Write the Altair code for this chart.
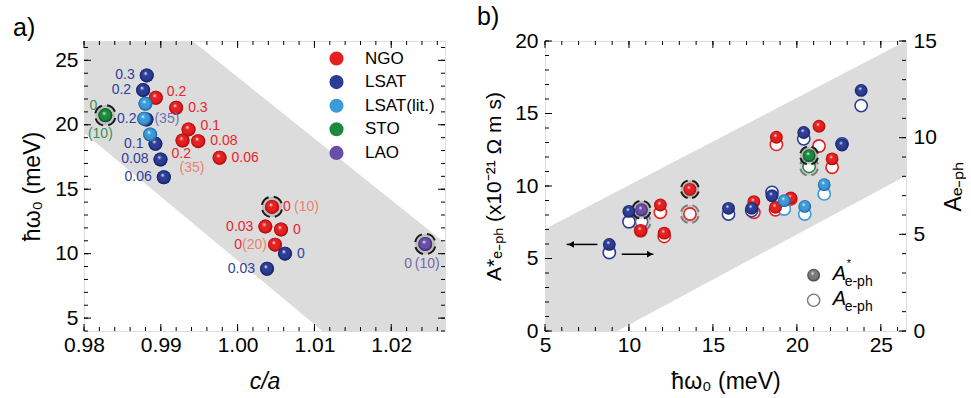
import altair as alt
import pandas as pd

FONT = "Liberation Sans"

# ---------------- data ----------------
materials = ["NGO", "LSAT", "LSAT(lit.)", "STO", "LAO"]
base_colors = ["#e62020", "#2c3d95", "#3c9ad9", "#1b8a3e", "#6a4ea5"]
dark_colors = ["#a00c0c", "#151e5e", "#1d5f98", "#0b4a1f", "#3a2767"]

# c/a, hbar*omega0 (meV), A*_e-ph (left axis), A_e-ph (right axis), dashed marker
ngo_ca = [0.98935, 0.99200, 0.99361, 0.99283, 0.99487, 0.99765, 1.00448, 1.00361, 1.00565, 1.00487]
ngo_w = [22.10, 21.32, 19.64, 18.78, 18.73, 17.44, 13.63, 12.10, 11.87, 10.70]
ngo_astar = [11.87, 14.12, 9.17, 13.36, 8.53, 8.92, 9.77, 6.75, 8.69, 6.94]
ngo_a = [8.47, 9.57, 6.83, 9.65, 6.27, 6.14, 6.05, 4.89, 6.14, 5.18]
ngo_ring = [0, 0, 0, 0, 0, 0, 1, 0, 0, 0]

lsat_ca = [0.98817, 0.98770, 0.98813, 0.98930, 0.98996, 0.99039, 1.00617, 1.00383]
lsat_w = [23.83, 22.69, 20.41, 18.52, 17.31, 15.93, 10.00, 8.83]
lsat_astar = [16.59, 12.83, 13.69, 9.33, 8.46, 8.46, 8.25, 5.97]
lsat_a = [11.66, 9.68, 9.94, 7.17, 6.23, 6.05, 5.65, 4.06]
lsat_ring = [0, 0, 0, 0, 0, 0, 0, 0]

lit_ca = [0.98800, 0.98783, 0.98861]
lit_w = [21.63, 20.47, 19.25]
lit_astar = [10.09, 8.59, 8.99]
lit_a = [7.09, 6.05, 6.31]
lit_ring = [0, 0, 0]

sto_ca = [0.98278]
sto_w = [20.73]
sto_astar = [12.10]
sto_a = [8.51]
sto_ring = [1]

lao_ca = [1.02443]
lao_w = [10.75]
lao_astar = [8.36]
lao_a = [5.65]
lao_ring = [1]

# point labels in panel a: (material, index, text)
lab_mat = ["NGO"] * 13 + ["LSAT"] * 9 + ["STO"] * 2 + ["LAO"] * 2
lab_idx = [0, 1, 2, 3, 3, 4, 5, 6, 6, 7, 8, 9, 9,
           0, 1, 2, 2, 3, 4, 5, 6, 7,
           0, 0, 0, 0]
lab_text = ["0.2", "0.3", "0.1", "0.2", "(35)", "0.08", "0.06", "0", "(10)", "0.03", "0", "0", "(20)",
            "0.3", "0.2", "0.2", "(35)", "0.1", "0.08", "0.06", "0", "0.03",
            "0", "(10)", "0", "(10)"]

# grey bands
band_a_x = [0.98, 0.99413, 1.01104, 1.027]
band_a_lo = [19.38, 12.38, 4.0, 4.0]
band_a_hi = [26.5, 26.5, 18.44, 10.83]

band_b_x = [5.0, 9.31, 26.5]
band_b_lo = [0.0, 0.0, 10.71]
band_b_hi = [7.03, 9.63, 20.0]

# arrows in panel b
arr_x1 = [8.12, 9.57]
arr_x2 = [6.29, 11.46]
arr_y = [5.97, 5.30]
head_x = [6.55, 11.25]

# legend symbols in panel b
leg_x = [21.0, 21.0]
leg_y = [3.85, 2.12]

# ---------------- styles ----------------
LAB_COLOR = {"NGO": ("#e8262b", "#e9836e"), "LSAT": ("#2f3f9c", "#6d72b3"),
             "STO": ("#3d8f55", "#3d8f55"), "LAO": ("#7565b0", "#7565b0")}
lab_dx = [11, 12, 12, -11, -3, 12, 12, 11, 22, -12, 12, -33, -8,
          -12, -12, -10, 8, -12, -12, -12, 12, -12,
          -12, -5, -17, 2]
lab_dy = [-6, 0, -3, 13, 27, 0, 0, 0, 0, 0, 0, 0, 0,
          0, 0, 0, 0, 0, 0, 0, 0, 0,
          -9, 19, 20, 20]
lab_align = ["left", "left", "left", "left", "left", "left", "left", "left", "left", "right", "left", "right", "right",
             "right", "right", "right", "left", "right", "right", "right", "left", "right",
             "center", "center", "center", "center"]

WA, HA = 361, 290
WB, HB = 361, 290

rows = []
for m, ca, w, ast, a, rg in [("NGO", ngo_ca, ngo_w, ngo_astar, ngo_a, ngo_ring),
                              ("LSAT", lsat_ca, lsat_w, lsat_astar, lsat_a, lsat_ring),
                              ("LSAT(lit.)", lit_ca, lit_w, lit_astar, lit_a, lit_ring),
                              ("STO", sto_ca, sto_w, sto_astar, sto_a, sto_ring),
                              ("LAO", lao_ca, lao_w, lao_astar, lao_a, lao_ring)]:
    for i in range(len(ca)):
        rows.append({"mat": m, "idx": i, "ca": ca[i], "w": w[i], "astar": ast[i], "a": a[i], "ring": rg[i]})
pts = pd.DataFrame(rows)


def grad(base, dark):
    return alt.RadialGradient(
        gradient="radial", x1=0.4, y1=0.33, r1=0.0, x2=0.5, y2=0.5, r2=0.5,
        stops=[alt.GradientStop(color="#ffffff", offset=0.0),
               alt.GradientStop(color=base, offset=0.3),
               alt.GradientStop(color=base, offset=0.7),
               alt.GradientStop(color=dark, offset=1.0)])


def tick_layers(values_major, values_minor, channel, sides, W, H, scale, axis):
    out = []
    for vals, ln in [(values_major, 7), (values_minor, 4)]:
        df = pd.DataFrame({"v": vals})
        for side in sides:
            if channel == "x":
                y0, y1 = (H, H - ln) if side == "bottom" else (0, ln)
                out.append(alt.Chart(df).mark_rule(color="black", strokeWidth=1).encode(
                    x=alt.X("v:Q", scale=scale, axis=axis), y=alt.value(y0), y2=alt.value(y1)))
            else:
                x0, x1 = (0, ln) if side == "left" else (W, W - ln)
                out.append(alt.Chart(df).mark_rule(color="black", strokeWidth=1).encode(
                    y=alt.Y("v:Q", scale=scale, axis=axis), x=alt.value(x0), x2=alt.value(x1)))
    return out


axis_common = dict(ticks=False, domain=False, grid=False, labelFontSize=21,
                   labelFont=FONT, titleFont=FONT, labelColor="black", titleColor="black",
                   titleFontWeight="normal", labelFlush=False)

# ---------------- panel a ----------------
sx_a = alt.Scale(domain=[0.98, 1.027], nice=False, zero=False)
sy_a = alt.Scale(domain=[4, 26.5], nice=False, zero=False)
ax_a_x = alt.Axis(title="c/a", values=[0.98, 0.99, 1.0, 1.01, 1.02], format=".2f", titleFontSize=23,
                  titleFontStyle="italic", titlePadding=15, labelPadding=3, **axis_common)
ax_a_y = alt.Axis(title="ħω₀ (meV)", values=[5, 10, 15, 20, 25], titlePadding=10, titleFontSize=23,
                  labelPadding=6, **axis_common)

band_a = alt.Chart(pd.DataFrame({"x": band_a_x, "lo": band_a_lo, "hi": band_a_hi})).mark_area(
    color="#dcdcdc", clip=True).encode(
    x=alt.X("x:Q", scale=sx_a, axis=ax_a_x),
    y=alt.Y("lo:Q", scale=sy_a, axis=ax_a_y), y2="hi:Q")

X_A = alt.X("ca:Q", scale=sx_a, axis=ax_a_x)
Y_A = alt.Y("w:Q", scale=sy_a, axis=ax_a_y)

ring_a = alt.Chart(pts[pts.ring == 1]).mark_circle(
    size=420, fill="#a9a9a9", fillOpacity=0.55, stroke="#1a1a1a", strokeWidth=2,
    strokeDash=[10.5, 5.2], strokeDashOffset=13.1, opacity=1).encode(x=X_A, y=Y_A)

flat_a = alt.Chart(pts).mark_circle(size=196, opacity=1).encode(
    x=X_A, y=Y_A,
    color=alt.Color("mat:N", scale=alt.Scale(domain=materials, range=base_colors),
                    legend=alt.Legend(orient="none", legendX=244, legendY=9, title=None,
                                      labelFontSize=17, labelFont=FONT, labelColor="black",
                                      symbolSize=200, symbolType="circle", symbolOpacity=1,
                                      symbolStrokeWidth=0, rowPadding=5.6, labelOffset=20,
                                      padding=0)))

spheres_a = []
for m, bc, dc in zip(materials, base_colors, dark_colors):
    spheres_a.append(alt.Chart(pts[pts.mat == m]).mark_circle(
        size=196, opacity=1, fill=grad(bc, dc)).encode(x=X_A, y=Y_A))

labels_a = []
for m, i, t, dx, dy, al in zip(lab_mat, lab_idx, lab_text, lab_dx, lab_dy, lab_align):
    row = pts[(pts.mat == m) & (pts.idx == i)].copy()
    row["t"] = t
    col = LAB_COLOR[m][1] if t.startswith("(") else LAB_COLOR[m][0]
    labels_a.append(alt.Chart(row).mark_text(
        dx=dx, dy=dy, align=al, baseline="middle", fontSize=14, font=FONT, color=col).encode(
        x=X_A, y=Y_A, text="t:N"))

ticks_a = (tick_layers([0.98, 0.99, 1.0, 1.01, 1.02], [0.98 + 0.002 * k for k in range(24)],
                       "x", ["bottom", "top"], WA, HA, sx_a, ax_a_x) +
           tick_layers([5, 10, 15, 20, 25], list(range(4, 27)), "y", ["left", "right"], WA, HA, sy_a, ax_a_y))

panel_a = alt.layer(band_a, ring_a, flat_a, *spheres_a, *labels_a, *ticks_a).properties(
    width=WA, height=HA,
    title=alt.TitleParams(text="a)", anchor="start", frame="group", dx=-71, fontSize=25,
                          font=FONT, fontWeight="normal", color="black", offset=0))

# ---------------- panel b ----------------
sx_b = alt.Scale(domain=[5, 26.5], nice=False, zero=False)
syl_b = alt.Scale(domain=[0, 20], nice=False, zero=False)
syr_b = alt.Scale(domain=[0, 15], nice=False, zero=False)
ax_b_x = alt.Axis(title="ħω₀ (meV)", values=[5, 10, 15, 20, 25], titlePadding=15, titleFontSize=23,
                  labelPadding=3, **axis_common)
ax_b_yl = alt.Axis(title="A*ₑ₋ₚₕ (x10⁻²¹ Ω m s)", values=[0, 5, 10, 15, 20], titlePadding=10,
                   titleFontSize=21, labelPadding=7, orient="left", **axis_common)
ax_b_yr = alt.Axis(title="Aₑ₋ₚₕ", values=[0, 5, 10, 15], titlePadding=6, orient="right",
                   titleFontSize=23, labelPadding=7, titleAngle=270, titleBaseline="top",
                   **axis_common)

X_B = alt.X("w:Q", scale=sx_b, axis=ax_b_x)

band_b = alt.Chart(pd.DataFrame({"x": band_b_x, "lo": band_b_lo, "hi": band_b_hi})).mark_area(
    color="#dcdcdc", clip=True).encode(
    x=alt.X("x:Q", scale=sx_b, axis=ax_b_x),
    y=alt.Y("lo:Q", scale=syl_b, axis=ax_b_yl), y2="hi:Q")
left_bg = alt.layer(band_b, *tick_layers([0, 5, 10, 15, 20], list(range(0, 21)), "y", ["left"],
                                         WB, HB, syl_b, ax_b_yl),
                    *tick_layers([5, 10, 15, 20, 25], list(range(5, 27)), "x", ["bottom", "top"],
                                 WB, HB, sx_b, ax_b_x))

Y_R = alt.Y("a:Q", scale=syr_b, axis=ax_b_yr)
ring_open = alt.Chart(pts[pts.ring == 1]).mark_circle(
    size=324, fill="#bbbbbb", fillOpacity=0.5, stroke="#7d7d7d", strokeWidth=2,
    strokeDash=[9.4, 4.7], strokeDashOffset=11.8, opacity=1).encode(x=X_B, y=Y_R)
open_layers = []
for m, bc in zip(materials, base_colors):
    open_layers.append(alt.Chart(pts[pts.mat == m]).mark_point(
        shape="circle", size=150, filled=False, fill="white", stroke=bc, strokeWidth=1.6,
        opacity=1).encode(x=X_B, y=Y_R))
right_grp = alt.layer(ring_open, *open_layers,
                      *tick_layers([0, 5, 10, 15], list(range(0, 16)), "y", ["right"],
                                   WB, HB, syr_b, ax_b_yr))

Y_L = alt.Y("astar:Q", scale=syl_b, axis=None)
ring_fill = alt.Chart(pts[pts.ring == 1]).mark_circle(
    size=324, fill="#9a9a9a", fillOpacity=0.55, stroke="#1a1a1a", strokeWidth=2,
    strokeDash=[9.4, 4.7], strokeDashOffset=11.8, opacity=1).encode(x=X_B, y=Y_L)
filled_layers = []
for m, bc, dc in zip(materials, base_colors, dark_colors):
    filled_layers.append(alt.Chart(pts[pts.mat == m]).mark_circle(
        size=165, opacity=1, fill=grad(bc, dc)).encode(x=X_B, y=Y_L))

arr_df = pd.DataFrame({"x1": arr_x1, "x2": arr_x2, "y": arr_y, "hx": head_x})
arrows = alt.Chart(arr_df).mark_rule(color="black", strokeWidth=1.5).encode(
    x=alt.X("x1:Q", scale=sx_b, axis=ax_b_x), x2="x2:Q",
    y=alt.Y("y:Q", scale=syl_b, axis=None))
head_l = alt.Chart(arr_df.iloc[[0]]).mark_point(shape="triangle-left", filled=True, color="black",
                                                 size=45, opacity=1).encode(
    x=alt.X("hx:Q", scale=sx_b, axis=ax_b_x), y=alt.Y("y:Q", scale=syl_b, axis=None))
head_r = alt.Chart(arr_df.iloc[[1]]).mark_point(shape="triangle-right", filled=True, color="black",
                                                 size=45, opacity=1).encode(
    x=alt.X("hx:Q", scale=sx_b, axis=ax_b_x), y=alt.Y("y:Q", scale=syl_b, axis=None))

leg_df = pd.DataFrame({"x": leg_x, "y": leg_y})
LX = alt.X("x:Q", scale=sx_b, axis=ax_b_x)
LY = alt.Y("y:Q", scale=syl_b, axis=None)
leg_fill = alt.Chart(leg_df.iloc[[0]]).mark_circle(size=165, opacity=1,
                                                   fill=grad("#7a7a7a", "#3c3c3c")).encode(x=LX, y=LY)
leg_open = alt.Chart(leg_df.iloc[[1]]).mark_point(shape="circle", size=150, filled=False,
                                                  stroke="#7a7a7a", strokeWidth=1.4,
                                                  opacity=1).encode(x=LX, y=LY)
leg_A = alt.Chart(leg_df).mark_text(text="A", fontStyle="italic", fontSize=20, font=FONT, align="left",
                                    baseline="middle", dx=19, dy=-1, color="black").encode(x=LX, y=LY)
leg_sub = alt.Chart(leg_df).mark_text(text="e-ph", fontSize=14, font=FONT, align="left",
                                      baseline="middle", dx=31, dy=7, color="black").encode(x=LX, y=LY)
leg_star = alt.Chart(leg_df.iloc[[0]]).mark_text(text="*", fontSize=11, font=FONT, align="left",
                                                 baseline="middle", dx=33, dy=-11,
                                                 color="black").encode(x=LX, y=LY)

left_fg = alt.layer(ring_fill, *filled_layers, arrows, head_l, head_r,
                    leg_fill, leg_open, leg_A, leg_sub, leg_star)

panel_b = alt.layer(left_bg, right_grp, left_fg).resolve_scale(y="independent").properties(
    width=WB, height=HB,
    title=alt.TitleParams(text="b)", anchor="start", frame="group", dx=-68, fontSize=25,
                          font=FONT, fontWeight="normal", color="black", offset=0))

chart = alt.hconcat(panel_a, panel_b, spacing=30).configure_view(
    stroke="black", strokeWidth=1.2).configure(
    padding={"left": 12, "right": 0, "top": 4, "bottom": 0}, background="white")

chart.save("out.html", embed_options={"renderer": "svg", "actions": False})
